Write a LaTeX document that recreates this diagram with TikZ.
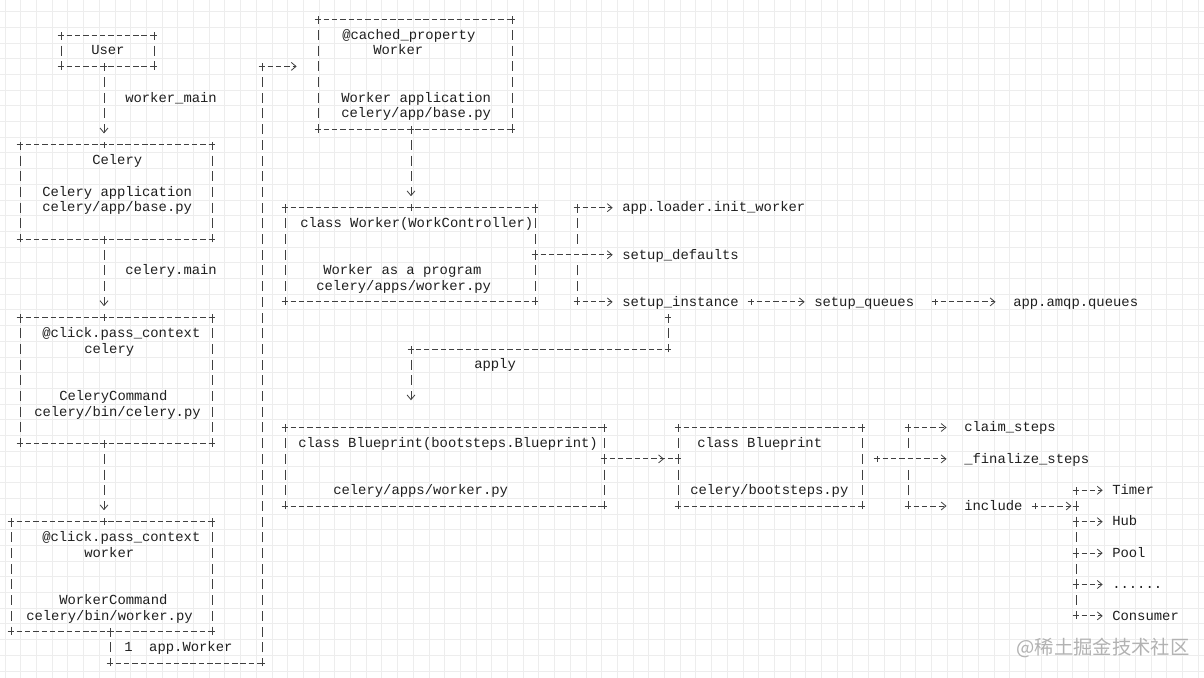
\documentclass[tikz,border=0pt]{standalone}
\usepackage{fontspec}
\setmonofont{Liberation Mono}
\newfontfamily\cjkfont{Noto Sans CJK SC}
\usepackage{xcolor}
\usetikzlibrary{arrows.meta,fit,decorations.markings}

\tikzset{
    gridline/.style={draw=black!7, line width=0.5pt},
    boxarea/.style={inner sep=0pt, outer sep=0pt},
    hline/.style={draw=black!75, line width=0.6pt, dash pattern=on 4.1pt off 2.14pt, dash phase=2.05pt},
    vline/.style={draw=black!75, line width=0.6pt, dash pattern=on 7.5pt off 4.275pt, dash phase=3.75pt},
    arr/.style={-{Straight Barb[length=3.6pt,width=6pt]}},
    midarr/.style={postaction={decorate, decoration={markings, mark=at position 0.81 with {\arrow[black!75]{Straight Barb[length=3.6pt,width=6pt]}}}}},
    txt/.style={anchor=base west, inner sep=0pt, yshift=-3.2pt, text=black!88, font=\ttfamily\fontsize{10.4}{12}\selectfont},
    wmtext/.style={text=black!30, inner sep=0pt, font=\cjkfont\fontsize{14.5}{16}\selectfont},
    crossmark/.pic={\draw[black!75, line width=0.6pt, solid] (-2.5pt,0pt) -- (2.5pt,0pt) (0pt,-2.5pt) -- (0pt,2.5pt);}
}

% ascii style box: dashed sides and + corners
\newcommand{\asciibox}[1]{%
    \draw[hline] (#1.north west) -- (#1.north east);
    \draw[hline] (#1.south west) -- (#1.south east);
    \draw[vline] (#1.north west) -- (#1.south west);
    \draw[vline] (#1.north east) -- (#1.south east);
    \foreach \c in {north west,north east,south west,south east}
        \pic at (#1.\c) {crossmark};
}

\begin{document}
\begin{tikzpicture}[x=0.75pt, y=-11.775pt]
    \useasboundingbox (0,-1.229) rectangle (1204,41.955);
    \clip (0,-1.229) rectangle (1204,41.955);
    \fill[white] (0,-1.229) rectangle (1204,41.955);
    \draw[gridline, xstep=11.775pt, ystep=11.775pt, xshift=3.75pt, yshift=-5.8875pt] (-10,44) grid (1220,-3);

    % boxes
    \node[boxarea, fit={(61,1) (154,3)}] (user) {};
    \node[boxarea, fit={(20,8) (212,14)}] (celery) {};
    \node[boxarea, fit={(20,19) (212,27)}] (celerycmd) {};
    \node[boxarea, fit={(11,32) (212,39)}] (workercmd) {};
    \node[boxarea, fit={(318,0) (512,7)}] (worker) {};
    \node[boxarea, fit={(285,12) (535,18)}] (workerctl) {};
    \node[boxarea, fit={(285,26) (604,31)}] (blueprint) {};
    \node[boxarea, fit={(678,26) (862,31)}] (blueprint2) {};
    \asciibox{user}
    \asciibox{celery}
    \asciibox{celerycmd}
    \asciibox{workercmd}
    \asciibox{worker}
    \asciibox{workerctl}
    \asciibox{blueprint}
    \asciibox{blueprint2}

    % texts in the boxes
    \node[txt] (userT) at (91,2) {User};
    \node[txt] (celT1) at (92,9) {Celery};
    \node[txt] (celT2) at (42,11) {Celery application};
    \node[txt] (celT3) at (42,12) {celery/app/base.py};
    \node[txt] (ccmdT1) at (42,20) {@click.pass\_context};
    \node[txt] (ccmdT2) at (84,21) {celery};
    \node[txt] (ccmdT3) at (59,24) {CeleryCommand};
    \node[txt] (ccmdT4) at (34,25) {celery/bin/celery.py};
    \node[txt] (wcmdT1) at (42,33) {@click.pass\_context};
    \node[txt] (wcmdT2) at (84,34) {worker};
    \node[txt] (wcmdT3) at (59,37) {WorkerCommand};
    \node[txt] (wcmdT4) at (26,38) {celery/bin/worker.py};
    \node[txt] (wrkT1) at (342,1) {@cached\_property};
    \node[txt] (wrkT2) at (373,2) {Worker};
    \node[txt] (wrkT3) at (341,5) {Worker application};
    \node[txt] (wrkT4) at (341,6) {celery/app/base.py};
    \node[txt] (ctlT1) at (300,13) {class Worker(WorkController)};
    \node[txt] (ctlT2) at (323,16) {Worker as a program};
    \node[txt] (ctlT3) at (316,17) {celery/apps/worker.py};
    \node[txt] (bpT1) at (298,27) {class Blueprint(bootsteps.Blueprint)};
    \node[txt] (bpT2) at (333,30) {celery/apps/worker.py};
    \node[txt] (bp2T1) at (697,27) {class Blueprint};
    \node[txt] (bp2T2) at (690,30) {celery/bootsteps.py};

    % labels
    \node[txt] (mainT) at (125,5) {worker\_main};
    \node[txt] (cmainT) at (125,16) {celery.main};
    \node[txt] (appwT) at (124,40) {1~~app.Worker};
    \node[txt] (applyT) at (474,22) {apply};
    \node[txt] (initT) at (622,12) {app.loader.init\_worker};
    \node[txt] (defaultsT) at (622,15) {setup\_defaults};
    \node[txt] (instT) at (622,18) {setup\_instance};
    \node[txt] (queuesT) at (814,18) {setup\_queues};
    \node[txt] (amqpT) at (1013,18) {app.amqp.queues};
    \node[txt] (claimT) at (964,26) {claim\_steps};
    \node[txt] (finalT) at (964,28) {\_finalize\_steps};
    \node[txt] (includeT) at (964,31) {include};
    \node[txt] (timerT) at (1112,30) {Timer};
    \node[txt] (hubT) at (1112,32) {Hub};
    \node[txt] (poolT) at (1112,34) {Pool};
    \node[txt] (dotsT) at (1112,36) {......};
    \node[txt] (consumerT) at (1112,38) {Consumer};

    % junction points
    \coordinate (mainx) at (104,0);
    \coordinate (ctlx) at (411,0);
    \coordinate (wb1) at (110,41);
    \coordinate (wb2) at (262,41);
    \coordinate (wb3) at (262,3);
    \coordinate (bus1) at (577,12);
    \coordinate (bus1b) at (577,14.5);
    \coordinate (bus2) at (577,18);
    \coordinate (bus2b) at (577,15.5);
    \coordinate (q1) at (751,18);
    \coordinate (q2) at (935,18);
    \coordinate (ap1) at (668,19);
    \coordinate (ap2) at (668,21);
    \coordinate (ap3) at (411,21);
    \coordinate (bprow) at (0,28);
    \coordinate (s0) at (877,28);
    \coordinate (s1) at (908,26);
    \coordinate (s1b) at (908,27.5);
    \coordinate (s2) at (908,31);
    \coordinate (s2b) at (908,28.5);
    \coordinate (i0) at (1035,31);
    \coordinate (i1) at (1076,31);
    \coordinate (tb30) at (1076,30);
    \coordinate (tb32) at (1076,32);
    \coordinate (tb34) at (1076,34);
    \coordinate (tb36) at (1076,36);
    \coordinate (tb38) at (1076,38);

    % left column
    \draw[vline, arr, shorten >=8.6pt] (user.south -| mainx) -- (celery.north -| mainx);
    \draw[vline, arr, shorten >=8.6pt] (celery.south -| mainx) -- (celerycmd.north -| mainx);
    \draw[vline, arr, shorten >=8.6pt] (celerycmd.south -| mainx) -- (workercmd.north -| mainx);
    \draw[vline] (workercmd.south -| wb1) -- (wb1);
    \draw[hline] (wb1) -- (wb2);
    \draw[vline] (wb2) -- (wb3);
    \draw[hline, arr, shorten >=16pt] (wb3) -- (worker.west |- wb3);

    % worker program
    \draw[vline, arr, shorten >=8.6pt] (worker.south -| ctlx) -- (workerctl.north -| ctlx);
    \draw[hline, arr, shorten >=7pt] (workerctl.east) -- (workerctl.east -| defaultsT.west);
    \draw[vline] (bus1) -- (bus1b);
    \draw[vline] (bus2) -- (bus2b);
    \draw[hline, arr, shorten >=7pt] (bus1) -- (bus1 -| initT.west);
    \draw[hline, arr, shorten >=7pt] (bus2) -- (bus2 -| instT.west);
    \draw[hline, arr, shorten >=7pt] (q1) -- (q1 -| queuesT.west);
    \draw[hline, arr, shorten >=13.1pt] (q2) -- (q2 -| amqpT.west);

    % apply
    \draw[vline] (ap1) -- (ap2);
    \draw[hline] (ap2) -- (ap3);
    \draw[vline, arr, shorten >=20.4pt] (ap3) -- (blueprint.north -| ap3);

    % blueprint
    \draw[hline, midarr] (blueprint.east |- bprow) -- (blueprint2.west |- bprow);
    \draw[hline, arr, shorten >=13.1pt] (s0) -- (s0 -| finalT.west);
    \draw[vline] (s1) -- (s1b);
    \draw[vline] (s2) -- (s2b);
    \draw[hline, arr, shorten >=13.1pt] (s1) -- (s1 -| claimT.west);
    \draw[hline, arr, shorten >=13.1pt] (s2) -- (s2 -| includeT.west);
    \draw[hline, arr, shorten >=3.4pt] (i0) -- (i1);
    \draw[vline] (tb30) -- (tb38);
    \draw[hline, arr, shorten >=7pt] (tb30) -- (tb30 -| timerT.west);
    \draw[hline, arr, shorten >=7pt] (tb32) -- (tb32 -| hubT.west);
    \draw[hline, arr, shorten >=7pt] (tb34) -- (tb34 -| poolT.west);
    \draw[hline, arr, shorten >=7pt] (tb36) -- (tb36 -| dotsT.west);
    \draw[hline, arr, shorten >=7pt] (tb38) -- (tb38 -| consumerT.west);

    % + marks on the joints
    \foreach \p in {user.south -| mainx, celery.north -| mainx, celery.south -| mainx,
                    celerycmd.north -| mainx, celerycmd.south -| mainx, workercmd.north -| mainx,
                    workercmd.south -| wb1, wb1, wb2, wb3, worker.south -| ctlx, workerctl.north -| ctlx,
                    workerctl.east, bus1, bus2, q1, q2, ap1, ap2, ap3,
                    blueprint.east |- bprow, blueprint2.west |- bprow, s0, s1, s2, i0, i1,
                    tb30, tb32, tb34, tb36, tb38}
        \pic at (\p) {crossmark};

    \node[wmtext] (wmark) at (1103,40.04) {@稀土掘金技术社区};
\end{tikzpicture}
\end{document}
